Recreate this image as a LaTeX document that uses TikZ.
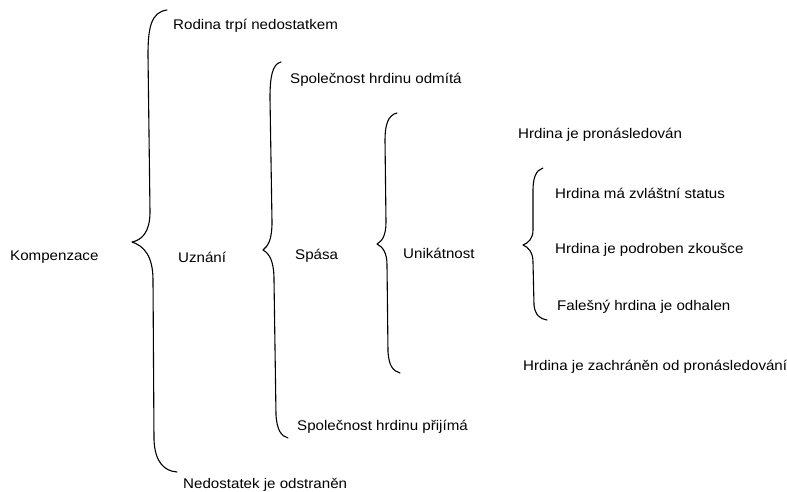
\documentclass[tikz,border=0pt]{standalone}
\usepackage{fontspec}
\setmainfont[FakeStretch=1.08]{Liberation Sans}
\begin{document}
\begin{tikzpicture}[x=1pt,y=-1pt,
  lbl/.style={anchor=west,inner sep=0pt,font=\fontsize{14}{16}\selectfont},
  brace/.style={line width=1.1pt,line cap=round,line join=round}]
\useasboundingbox (0,0) rectangle (787,492);

% level 1
\draw[brace] (167,10) .. controls (151,12) and (148,28) .. (148,55)
  -- (150,212) .. controls (150,232) and (142,240) .. (132,242)
  .. controls (144,246) and (153,256) .. (153,280)
  -- (154,440) .. controls (155,462) and (164,471) .. (177,472);
% level 2
\draw[brace] (281,62) .. controls (272,64) and (270,78) .. (270,98)
  -- (272,222) .. controls (272,240) and (268,246) .. (263,250)
  .. controls (270,254) and (274,262) .. (274,280)
  -- (276,415) .. controls (277,430) and (281,436) .. (288,438);
% level 3
\draw[brace] (397,113) .. controls (388,115) and (385,125) .. (385,140)
  -- (386,222) .. controls (386,236) and (382,241) .. (377,244)
  .. controls (383,247) and (387,253) .. (387,265)
  -- (388,352) .. controls (389,366) and (393,371) .. (400,373);
% level 4
\draw[brace] (543,168) .. controls (536,170) and (533,178) .. (533,190)
  -- (533,230) .. controls (533,239) and (528,243) .. (523,245)
  .. controls (528,247) and (533,252) .. (533,262)
  -- (534,305) .. controls (535,315) and (540,319) .. (547,320);

\node[lbl] (komp) at (10,257) {Kompenzace};
\node[lbl] (rod) at (173,26) {Rodina trpí nedostatkem};
\node[lbl] (uzn) at (178,257) {Uznání};
\node[lbl] (ned) at (183,485) {Nedostatek je odstraněn};
\node[lbl] (odm) at (290,80) {Společnost hrdinu odmítá};
\node[lbl] (spa) at (295,256) {Spása};
\node[lbl] (pri) at (297,427) {Společnost hrdinu přijímá};
\node[lbl] (uni) at (403,253) {Unikátnost};
\node[lbl] (pro) at (518,135) {Hrdina je pronásledován};
\node[lbl] (zvl) at (555,193) {Hrdina má zvláštní status};
\node[lbl] (zko) at (555,250) {Hrdina je podroben zkoušce};
\node[lbl] (fal) at (557,307) {Falešný hrdina je odhalen};
\node[lbl] (zach) at (523,367) {Hrdina je zachráněn od pronásledování};
\end{tikzpicture}
\end{document}
